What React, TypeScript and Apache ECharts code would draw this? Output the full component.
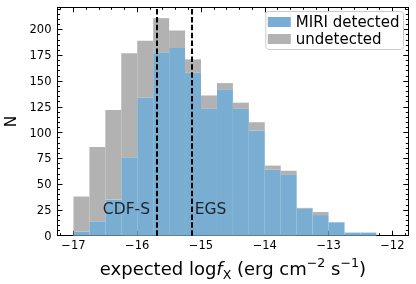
import React, { useEffect, useRef } from 'react';
import * as echarts from 'echarts';

// Histogram bins (left edges), width 0.25
const binStarts = [-17, -16.75, -16.5, -16.25, -16, -15.75, -15.5, -15.25, -15, -14.75, -14.5, -14.25, -14, -13.75, -13.5, -13.25, -13, -12.75, -12.5, -12.25];
const binWidth = 0.25;
// counts (stacked: detected at bottom, undetected on top)
const detectedCounts = [4, 14, 35, 76, 134, 178, 182, 158, 123, 142, 123, 102, 64, 59, 26, 20, 13, 3, 3, 0];
const undetectedCounts = [34, 72, 87, 101, 55, 33, 17, 13, 13, 6, 6, 8, 4, 4, 1, 3, 0, 0, 0, 0];

const xTicks = [-17, -16, -15, -14, -13, -12];
const yTicks = [0, 25, 50, 75, 100, 125, 150, 175, 200];
const refNames = ['CDF-S', 'EGS'];
const refX = [-15.7, -15.15];
const refLabelX = [-15.8, -15.1];
const refLabelY = [25.5, 25.5];

const X_MIN = -17.25;
const X_MAX = -11.75;
const Y_MAX = 221.5;

const xMinor: number[] = [];
for (let i = -86; i <= -59; i++) {
  const v = Math.round(i * 0.2 * 1000) / 1000;
  if (Math.abs(v - Math.round(v)) > 1e-6) xMinor.push(v);
}
const yMinor: number[] = [];
for (let v = 5; v <= 220; v += 5) if (v % 25 !== 0) yMinor.push(v);

const FONT = 'DejaVu Sans';
const BLUE = '#79add2';
const GRAY = '#b2b2b2';

const fmt = (v: number) => (v < 0 ? '\u2212' + Math.abs(v) : String(v));

export default function App() {
  const ref = useRef<HTMLDivElement>(null);
  useEffect(() => {
    if (!ref.current) return;
    const chart = echarts.init(ref.current, null, { renderer: 'svg' });

    const detData = binStarts.map((s, i) => [s, s + binWidth, 0, detectedCounts[i]]);
    const undData = binStarts.map((s, i) => [s, s + binWidth, detectedCounts[i], detectedCounts[i] + undetectedCounts[i]]);

    const renderBar = (color: string) => (params: any, api: any) => {
      const x0 = api.value(0), x1 = api.value(1), lo = api.value(2), hi = api.value(3);
      if (hi <= lo) return null;
      const p0 = api.coord([x0, lo]);
      const p1 = api.coord([x1, hi]);
      return {
        type: 'rect',
        shape: { x: p0[0], y: p1[1], width: p1[0] - p0[0], height: p0[1] - p1[1] },
        style: { fill: color },
      };
    };

    const axisLineStyle = { color: '#000', width: 1 };
    const baseX = { type: 'value', min: X_MIN, max: X_MAX, splitLine: { show: false } };
    const baseY = { type: 'value', min: 0, max: Y_MAX, splitLine: { show: false } };

    const option: any = {
      animation: false,
      grid: { left: 57.5, right: 7.7, top: 7.3, bottom: 48.3, containLabel: false, outerBoundsMode: 'none' },
      legend: {
        data: ['MIRI detected', 'undetected'],
        orient: 'vertical',
        right: 12.5,
        top: 11.5,
        icon: 'rect',
        itemWidth: 23,
        itemHeight: 10,
        itemGap: 0,
        padding: [2, 4, 2, 2],
        borderColor: '#cccccc',
        borderWidth: 1,
        borderRadius: 3,
        backgroundColor: 'rgba(255,255,255,0.8)',
        textStyle: { fontFamily: FONT, fontSize: 15, color: '#000', lineHeight: 17 },
      },
      xAxis: [
        {
          ...baseX,
          position: 'bottom',
          axisLine: { show: true, onZero: false, lineStyle: axisLineStyle },
          axisTick: { show: true, inside: true, length: 5, customValues: xTicks, lineStyle: axisLineStyle },
          axisLabel: { customValues: xTicks, formatter: fmt, margin: 3, fontSize: 11.5, color: '#000', fontFamily: FONT },
          name: 'expected log{i|f}{sub|X} (erg cm{sup|\u22122} s{sup|\u22121})',
          nameLocation: 'middle',
          nameGap: 17,
          nameTextStyle: {
            fontFamily: FONT, fontSize: 18, color: '#000', lineHeight: 25,
            rich: {
              i: { fontFamily: FONT, fontSize: 18, fontStyle: 'italic', color: '#000', lineHeight: 25 },
              sub: { fontFamily: FONT, fontSize: 12.6, color: '#000', lineHeight: 17, verticalAlign: 'bottom' },
              sup: { fontFamily: FONT, fontSize: 12.6, color: '#000', lineHeight: 14, verticalAlign: 'top' },
            },
          },
        },
        {
          ...baseX,
          position: 'bottom',
          axisLine: { show: false, onZero: false },
          axisTick: { show: true, inside: true, length: 2.5, customValues: xMinor, lineStyle: axisLineStyle },
          axisLabel: { show: false },
        },
        {
          ...baseX,
          position: 'top',
          axisLine: { show: true, onZero: false, lineStyle: axisLineStyle },
          axisTick: { show: true, inside: true, length: 5, customValues: xTicks, lineStyle: axisLineStyle },
          axisLabel: { show: false },
        },
        {
          ...baseX,
          position: 'top',
          axisLine: { show: false, onZero: false },
          axisTick: { show: true, inside: true, length: 2.5, customValues: xMinor, lineStyle: axisLineStyle },
          axisLabel: { show: false },
        },
      ],
      yAxis: [
        {
          ...baseY,
          position: 'left',
          axisLine: { show: true, onZero: false, lineStyle: axisLineStyle },
          axisTick: { show: true, inside: true, length: 5, customValues: yTicks, lineStyle: axisLineStyle },
          axisLabel: { customValues: yTicks, margin: 6, fontSize: 11.5, color: '#000', fontFamily: FONT },
          name: 'N',
          nameLocation: 'middle',
          nameGap: 27,
          nameRotate: 90,
          nameTextStyle: { fontFamily: FONT, fontSize: 15.5, color: '#000' },
        },
        {
          ...baseY,
          position: 'left',
          axisLine: { show: false, onZero: false },
          axisTick: { show: true, inside: true, length: 2.5, customValues: yMinor, lineStyle: axisLineStyle },
          axisLabel: { show: false },
        },
        {
          ...baseY,
          position: 'right',
          axisLine: { show: true, onZero: false, lineStyle: axisLineStyle },
          axisTick: { show: true, inside: true, length: 5, customValues: yTicks, lineStyle: axisLineStyle },
          axisLabel: { show: false },
        },
        {
          ...baseY,
          position: 'right',
          axisLine: { show: false, onZero: false },
          axisTick: { show: true, inside: true, length: 2.5, customValues: yMinor, lineStyle: axisLineStyle },
          axisLabel: { show: false },
        },
      ],
      series: [
        {
          name: 'MIRI detected',
          type: 'custom',
          xAxisIndex: 0,
          yAxisIndex: 0,
          itemStyle: { color: BLUE },
          renderItem: renderBar(BLUE),
          encode: { x: [0, 1], y: [2, 3] },
          data: detData,
          z: 2,
        },
        {
          name: 'undetected',
          type: 'custom',
          xAxisIndex: 0,
          yAxisIndex: 0,
          itemStyle: { color: GRAY },
          renderItem: renderBar(GRAY),
          encode: { x: [0, 1], y: [2, 3] },
          data: undData,
          z: 2,
        },
        {
          name: 'fields',
          type: 'scatter',
          xAxisIndex: 0,
          yAxisIndex: 0,
          symbolSize: 0,
          z: 5,
          silent: true,
          data: refNames.map((n, i) => ({
            value: [refLabelX[i], refLabelY[i]],
            name: n,
            label: { align: i === 0 ? 'right' : 'left' },
          })),
          label: {
            show: true,
            position: [0, 0],
            formatter: (p: any) => p.name,
            verticalAlign: 'middle',
            fontFamily: FONT,
            fontSize: 15.5,
            color: '#000',
          },
          markLine: {
            silent: true,
            symbol: ['none', 'none'],
            label: { show: false },
            lineStyle: { color: '#000', type: [5.5, 2.4], width: 2 },
            data: refX.map((x) => ({ xAxis: x })),
          },
        },
      ],
    };
    chart.setOption(option);
    return () => chart.dispose();
  }, []);
  return <div ref={ref} style={{ position: 'fixed', left: 0, top: 0, width: 416, height: 284 }} />;
}
